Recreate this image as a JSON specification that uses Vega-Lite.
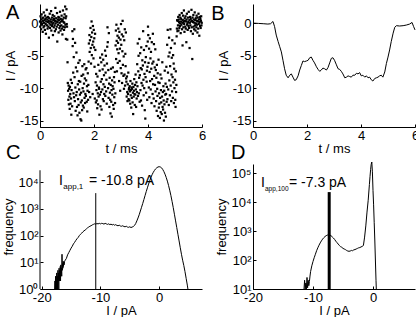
{
  "$schema": "https://vega.github.io/schema/vega-lite/v6.json",
  "padding": {"left": 2, "top": 2, "right": 0, "bottom": 0},
  "bounds": "flush",
  "columns": 2,
  "spacing": {"row": 37, "column": 51},
  "datasets": {
    "a": [
      {"t":0,"v":0.3},{"t":0.01,"v":-0.5},{"t":0.02,"v":1.1},{"t":0.03,"v":0.2},{"t":0.04,"v":-0.9},{"t":0.05,"v":0.6},{"t":0.06,"v":1.4},{"t":0.07,"v":-0.2},{"t":0.08,"v":0},{"t":0.09,"v":0.8},
      {"t":0.1,"v":-1.3},{"t":0.11,"v":0.4},{"t":0.12,"v":0.9},{"t":0.13,"v":-0.6},{"t":0.14,"v":1.7},{"t":0.15,"v":0.1},{"t":0.16,"v":-0.4},{"t":0.17,"v":0.5},{"t":0.18,"v":-1},{"t":0.19,"v":1.2},
      {"t":0.2,"v":0.7},{"t":0.21,"v":-0.1},{"t":0.22,"v":-1.6},{"t":0.23,"v":0.3},{"t":0.24,"v":0.9},{"t":0.25,"v":2.1},{"t":0.26,"v":-0.3},{"t":0.27,"v":0.6},{"t":0.28,"v":-0.8},{"t":0.29,"v":0.2},
      {"t":0.3,"v":1},{"t":0.31,"v":-0.5},{"t":0.32,"v":0.4},{"t":0.33,"v":-2.2},{"t":0.34,"v":0.8},{"t":0.35,"v":0},{"t":0.36,"v":1.5},{"t":0.37,"v":-0.7},{"t":0.38,"v":0.3},{"t":0.39,"v":-0.2},
      {"t":0.4,"v":0.6},{"t":0.41,"v":1.9},{"t":0.42,"v":-1.1},{"t":0.43,"v":0.2},{"t":0.44,"v":-0.4},{"t":0.45,"v":0.9},{"t":0.46,"v":-0.1},{"t":0.47,"v":1.3},{"t":0.48,"v":-1.8},{"t":0.49,"v":0.5},
      {"t":0.5,"v":0.1},{"t":0.51,"v":-0.6},{"t":0.52,"v":0.7},{"t":0.53,"v":1.1},{"t":0.54,"v":-0.3},{"t":0.55,"v":-1.2},{"t":0.56,"v":0.4},{"t":0.57,"v":2.4},{"t":0.58,"v":0},{"t":0.59,"v":-0.9},
      {"t":0.6,"v":0.8},{"t":0.61,"v":0.3},{"t":0.62,"v":-0.5},{"t":0.63,"v":1.6},{"t":0.64,"v":-2.8},{"t":0.65,"v":0.2},{"t":0.66,"v":0.6},{"t":0.67,"v":-0.2},{"t":0.68,"v":1},{"t":0.69,"v":-1.4},
      {"t":0.7,"v":0.5},{"t":0.71,"v":0.9},{"t":0.72,"v":-0.7},{"t":0.73,"v":0.1},{"t":0.74,"v":1.8},{"t":0.75,"v":-0.4},{"t":0.76,"v":-1.1},{"t":0.77,"v":0.7},{"t":0.78,"v":0.3},{"t":0.79,"v":-0.3},
      {"t":0.8,"v":1.2},{"t":0.81,"v":-0.8},{"t":0.82,"v":0.4},{"t":0.83,"v":-1.7},{"t":0.84,"v":0.6},{"t":0.85,"v":2},{"t":0.86,"v":-0.5},{"t":0.87,"v":0.2},{"t":0.88,"v":0.9},{"t":0.89,"v":-1},
      {"t":0.9,"v":0.1},{"t":0.91,"v":1.4},{"t":0.92,"v":-0.6},{"t":0.93,"v":2.6},{"t":0.94,"v":-0.2},{"t":0.95,"v":0.8},{"t":0.96,"v":-2.4},{"t":0.97,"v":1.1},{"t":0.98,"v":2.2},{"t":0.99,"v":-0.1},
      {"t":1,"v":-0.5},{"t":1.01,"v":-2.5},{"t":1.02,"v":-6},{"t":1.03,"v":-9.2},{"t":1.04,"v":-10.4},{"t":1.05,"v":-11.8},{"t":1.06,"v":-9.6},{"t":1.07,"v":-12.5},{"t":1.08,"v":-10.1},{"t":1.09,"v":-11.3},
      {"t":1.1,"v":-13.2},{"t":1.11,"v":-9.8},{"t":1.12,"v":-10.9},{"t":1.13,"v":-12.4},{"t":1.14,"v":-8.7},{"t":1.15,"v":-11.6},{"t":1.16,"v":-14.1},{"t":1.17,"v":-10.3},{"t":1.18,"v":-9.2},{"t":1.19,"v":-12.8},
      {"t":1.2,"v":-1.2},{"t":1.21,"v":-3.5},{"t":1.22,"v":-2.4},{"t":1.23,"v":-7.6},{"t":1.24,"v":-10.8},{"t":1.25,"v":-5.2},{"t":1.26,"v":-11.4},{"t":1.27,"v":-0.9},{"t":1.28,"v":-8.3},{"t":1.29,"v":-12},
      {"t":1.3,"v":-3},{"t":1.31,"v":-9.9},{"t":1.32,"v":-13.5},{"t":1.33,"v":-6.8},{"t":1.34,"v":-11.1},{"t":1.35,"v":-4.5},{"t":1.36,"v":-10.6},{"t":1.37,"v":-12.9},{"t":1.38,"v":-7.4},{"t":1.39,"v":-14.2},
      {"t":1.4,"v":-9.4},{"t":1.41,"v":-11.7},{"t":1.42,"v":-6.1},{"t":1.43,"v":-12.6},{"t":1.44,"v":-8.9},{"t":1.45,"v":-10.2},{"t":1.46,"v":-13.8},{"t":1.47,"v":-5.7},{"t":1.48,"v":-11},{"t":1.49,"v":-9},
      {"t":1.5,"v":-14.8},{"t":1.51,"v":-12.2},{"t":1.52,"v":-10.7},{"t":1.53,"v":-15},{"t":1.54,"v":-8.1},{"t":1.55,"v":-11.9},{"t":1.56,"v":-13.4},{"t":1.57,"v":-6.6},{"t":1.58,"v":-10},{"t":1.59,"v":-12.7},
      {"t":1.6,"v":-7.9},{"t":1.61,"v":-10.5},{"t":1.62,"v":-13},{"t":1.63,"v":-9.3},{"t":1.64,"v":-6.3},{"t":1.65,"v":-11.5},{"t":1.66,"v":-8.5},{"t":1.67,"v":-12.3},{"t":1.68,"v":-10.9},{"t":1.69,"v":-7.1},
      {"t":1.7,"v":-11.2},{"t":1.71,"v":-8.8},{"t":1.72,"v":-6.9},{"t":1.73,"v":-12.1},{"t":1.74,"v":-9.7},{"t":1.75,"v":-13.6},{"t":1.76,"v":-10.4},{"t":1.77,"v":-7.7},{"t":1.78,"v":-11.8},{"t":1.79,"v":-9.5},
      {"t":1.8,"v":-5.9},{"t":1.81,"v":-3.1},{"t":1.82,"v":-10.6},{"t":1.83,"v":-1.8},{"t":1.84,"v":-4.4},{"t":1.85,"v":-2.6},{"t":1.86,"v":-11.4},{"t":1.87,"v":-0.7},{"t":1.88,"v":-3.8},{"t":1.89,"v":-6.2},
      {"t":1.9,"v":-2.1},{"t":1.91,"v":0.3},{"t":1.92,"v":-4.9},{"t":1.93,"v":-1.4},{"t":1.94,"v":-3.3},{"t":1.95,"v":-10.9},{"t":1.96,"v":-0.4},{"t":1.97,"v":-2.8},{"t":1.98,"v":-5.4},{"t":1.99,"v":-1},
      {"t":2,"v":-3.7},{"t":2.01,"v":-2.3},{"t":2.02,"v":-6.7},{"t":2.03,"v":-11.6},{"t":2.04,"v":-1.6},{"t":2.05,"v":-4.1},{"t":2.06,"v":-9.1},{"t":2.07,"v":-12.2},{"t":2.08,"v":-7.8},{"t":2.09,"v":-10.3},
      {"t":2.1,"v":-11.9},{"t":2.11,"v":-9.6},{"t":2.12,"v":-13.1},{"t":2.13,"v":-8.2},{"t":2.14,"v":-10.8},{"t":2.15,"v":-12.5},{"t":2.16,"v":-6.4},{"t":2.17,"v":-11.3},{"t":2.18,"v":-9.9},{"t":2.19,"v":-10.1},
      {"t":2.2,"v":-14.1},{"t":2.21,"v":-7.3},{"t":2.22,"v":-11},{"t":2.23,"v":-5.3},{"t":2.24,"v":-12.8},{"t":2.25,"v":-9},{"t":2.26,"v":-10.6},{"t":2.27,"v":-6},{"t":2.28,"v":-13.3},{"t":2.29,"v":-8.6},
      {"t":2.3,"v":-4.8},{"t":2.31,"v":-10.2},{"t":2.32,"v":-7.1},{"t":2.33,"v":-11.7},{"t":2.34,"v":-5.6},{"t":2.35,"v":-9.4},{"t":2.36,"v":-12},{"t":2.37,"v":-8},{"t":2.38,"v":-10.9},{"t":2.39,"v":-6.5},
      {"t":2.4,"v":-9.8},{"t":2.41,"v":-4.2},{"t":2.42,"v":-11.2},{"t":2.43,"v":-7.6},{"t":2.44,"v":-5},{"t":2.45,"v":-10.5},{"t":2.46,"v":-8.7},{"t":2.47,"v":-12.4},{"t":2.48,"v":-6.2},{"t":2.49,"v":-3.6},
      {"t":2.5,"v":-0.6},{"t":2.51,"v":-2.9},{"t":2.52,"v":-10},{"t":2.53,"v":-7.2},{"t":2.54,"v":-11.5},{"t":2.55,"v":-1.5},{"t":2.56,"v":-9.3},{"t":2.57,"v":-12.9},{"t":2.58,"v":-8.4},{"t":2.59,"v":-10.7},
      {"t":2.6,"v":-11.8},{"t":2.61,"v":-13.9},{"t":2.62,"v":-9.5},{"t":2.63,"v":-7},{"t":2.64,"v":-12.1},{"t":2.65,"v":-10.3},{"t":2.66,"v":-14.4},{"t":2.67,"v":-8.8},{"t":2.68,"v":-11},{"t":2.69,"v":-9.7},
      {"t":2.7,"v":-6.8},{"t":2.71,"v":-12.6},{"t":2.72,"v":-10.1},{"t":2.73,"v":-13.2},{"t":2.74,"v":-8.3},{"t":2.75,"v":-11.4},{"t":2.76,"v":-9.1},{"t":2.77,"v":-7.5},{"t":2.78,"v":-12.3},{"t":2.79,"v":-10.8},
      {"t":2.8,"v":-3.4},{"t":2.81,"v":-1.1},{"t":2.82,"v":-5.5},{"t":2.83,"v":-0.2},{"t":2.84,"v":-2.7},{"t":2.85,"v":-7.4},{"t":2.86,"v":-4},{"t":2.87,"v":-1.9},{"t":2.88,"v":-6.1},{"t":2.89,"v":-3},
      {"t":2.9,"v":-0.8},{"t":2.91,"v":-4.6},{"t":2.92,"v":-2.2},{"t":2.93,"v":-8.9},{"t":2.94,"v":-1.3},{"t":2.95,"v":-5.8},{"t":2.96,"v":-3.9},{"t":2.97,"v":-10.4},{"t":2.98,"v":-2.5},{"t":2.99,"v":-6.9},
      {"t":3,"v":-0.1},{"t":3.01,"v":-3.3},{"t":3.02,"v":-7.7},{"t":3.03,"v":-1.7},{"t":3.04,"v":-9.2},{"t":3.05,"v":-4.3},{"t":3.06,"v":0.4},{"t":3.07,"v":-6.4},{"t":3.08,"v":-2},{"t":3.09,"v":-8.1},
      {"t":3.1,"v":-5.1},{"t":3.11,"v":-10.1},{"t":3.12,"v":-2.6},{"t":3.13,"v":-7.9},{"t":3.14,"v":-0.9},{"t":3.15,"v":-9.6},{"t":3.16,"v":-4.7},{"t":3.17,"v":-6.6},{"t":3.18,"v":-1.4},{"t":3.19,"v":-8.5},
      {"t":3.2,"v":-9},{"t":3.21,"v":-11.3},{"t":3.22,"v":-8.2},{"t":3.23,"v":-10.6},{"t":3.24,"v":-12},{"t":3.25,"v":-9.4},{"t":3.26,"v":-10.9},{"t":3.27,"v":-7.6},{"t":3.28,"v":-11.7},{"t":3.29,"v":-10.2},
      {"t":3.3,"v":-10},{"t":3.31,"v":-11.9},{"t":3.32,"v":-9.7},{"t":3.33,"v":-10.5},{"t":3.34,"v":-12.4},{"t":3.35,"v":-8.9},{"t":3.36,"v":-11.1},{"t":3.37,"v":-10.3},{"t":3.38,"v":-13},{"t":3.39,"v":-9.9},
      {"t":3.4,"v":-11.5},{"t":3.41,"v":-10.1},{"t":3.42,"v":-9.3},{"t":3.43,"v":-12.2},{"t":3.44,"v":-10.7},{"t":3.45,"v":-14},{"t":3.46,"v":-9.8},{"t":3.47,"v":-11.3},{"t":3.48,"v":-10.4},{"t":3.49,"v":-8.6},
      {"t":3.5,"v":-10.9},{"t":3.51,"v":-12.6},{"t":3.52,"v":-9.5},{"t":3.53,"v":-11},{"t":3.54,"v":-7.9},{"t":3.55,"v":-10.2},{"t":3.56,"v":-12.9},{"t":3.57,"v":-9.1},{"t":3.58,"v":-11.6},{"t":3.59,"v":-10.6},
      {"t":3.6,"v":-6.3},{"t":3.61,"v":-9.7},{"t":3.62,"v":-3.1},{"t":3.63,"v":-11.2},{"t":3.64,"v":-7.4},{"t":3.65,"v":-5},{"t":3.66,"v":-10.8},{"t":3.67,"v":-8.4},{"t":3.68,"v":-2.4},{"t":3.69,"v":-12.1},
      {"t":3.7,"v":-8},{"t":3.71,"v":-4.6},{"t":3.72,"v":-10.3},{"t":3.73,"v":-6.9},{"t":3.74,"v":-11.9},{"t":3.75,"v":-3.7},{"t":3.76,"v":-9.2},{"t":3.77,"v":-7.1},{"t":3.78,"v":-12.7},{"t":3.79,"v":-5.7},
      {"t":3.8,"v":-9.6},{"t":3.81,"v":-6.5},{"t":3.82,"v":-1.2},{"t":3.83,"v":-8.7},{"t":3.84,"v":-11.1},{"t":3.85,"v":-4.1},{"t":3.86,"v":-10},{"t":3.87,"v":-7.8},{"t":3.88,"v":-13.4},{"t":3.89,"v":-6},
      {"t":3.9,"v":-14.7},{"t":3.91,"v":-8.3},{"t":3.92,"v":-5.2},{"t":3.93,"v":-10.7},{"t":3.94,"v":-3.5},{"t":3.95,"v":-9},{"t":3.96,"v":-7.3},{"t":3.97,"v":-11.8},{"t":3.98,"v":-6.7},{"t":3.99,"v":-2.8},
      {"t":4,"v":-0.5},{"t":4.01,"v":-1.8},{"t":4.02,"v":-6.1},{"t":4.03,"v":-9.9},{"t":4.04,"v":-3.9},{"t":4.05,"v":-11.4},{"t":4.06,"v":-7.5},{"t":4.07,"v":-2.3},{"t":4.08,"v":-8.9},{"t":4.09,"v":-5.4},
      {"t":4.1,"v":-10.2},{"t":4.11,"v":-4.4},{"t":4.12,"v":-7},{"t":4.13,"v":-12.3},{"t":4.14,"v":-2.9},{"t":4.15,"v":-8.6},{"t":4.16,"v":-6.2},{"t":4.17,"v":-10.9},{"t":4.18,"v":-1.6},{"t":4.19,"v":-9.4},
      {"t":4.2,"v":-5.9},{"t":4.21,"v":-11.6},{"t":4.22,"v":-3.2},{"t":4.23,"v":-8.1},{"t":4.24,"v":-12.8},{"t":4.25,"v":-6.8},{"t":4.26,"v":-9.5},{"t":4.27,"v":-4},{"t":4.28,"v":-10.5},{"t":4.29,"v":-7.2},
      {"t":4.3,"v":-12},{"t":4.31,"v":-8.4},{"t":4.32,"v":-13.5},{"t":4.33,"v":-6.4},{"t":4.34,"v":-10.1},{"t":4.35,"v":-11.2},{"t":4.36,"v":-7.7},{"t":4.37,"v":-14.3},{"t":4.38,"v":-9.1},{"t":4.39,"v":-5.6},
      {"t":4.4,"v":-13},{"t":4.41,"v":-10.8},{"t":4.42,"v":-12.4},{"t":4.43,"v":-9.2},{"t":4.44,"v":-14.6},{"t":4.45,"v":-11.5},{"t":4.46,"v":-7.9},{"t":4.47,"v":-13.7},{"t":4.48,"v":-10.3},{"t":4.49,"v":-12.2},
      {"t":4.5,"v":-8.5},{"t":4.51,"v":-14},{"t":4.52,"v":-11.3},{"t":4.53,"v":-6},{"t":4.54,"v":-12.9},{"t":4.55,"v":-10.6},{"t":4.56,"v":-13.3},{"t":4.57,"v":-9.7},{"t":4.58,"v":-11.9},{"t":4.59,"v":-15},
      {"t":4.6,"v":-10.4},{"t":4.61,"v":-12.5},{"t":4.62,"v":-7.3},{"t":4.63,"v":-13.8},{"t":4.64,"v":-11},{"t":4.65,"v":-9.3},{"t":4.66,"v":-14.4},{"t":4.67,"v":-10.9},{"t":4.68,"v":-6.7},{"t":4.69,"v":-12.1},
      {"t":4.7,"v":-9.8},{"t":4.71,"v":-3.3},{"t":4.72,"v":-11.7},{"t":4.73,"v":-1},{"t":4.74,"v":-7.6},{"t":4.75,"v":-10.2},{"t":4.76,"v":-5.1},{"t":4.77,"v":-12.6},{"t":4.78,"v":-2.2},{"t":4.79,"v":-8.8},
      {"t":4.8,"v":-4.5},{"t":4.81,"v":-11.1},{"t":4.82,"v":-6.6},{"t":4.83,"v":-0.9},{"t":4.84,"v":-9.6},{"t":4.85,"v":-3.8},{"t":4.86,"v":-12},{"t":4.87,"v":-7.9},{"t":4.88,"v":-5.3},{"t":4.89,"v":-10.5},
      {"t":4.9,"v":-2.6},{"t":4.91,"v":-8.3},{"t":4.92,"v":-11.5},{"t":4.93,"v":-4.9},{"t":4.94,"v":-9.1},{"t":4.95,"v":-6.2},{"t":4.96,"v":-12.3},{"t":4.97,"v":-7},{"t":4.98,"v":-10},{"t":4.99,"v":-3.1},
      {"t":5,"v":-8.7},{"t":5.01,"v":-11.8},{"t":5.02,"v":-12.9},{"t":5.03,"v":-7.4},{"t":5.04,"v":-10.6},{"t":5.05,"v":-9.5},
      {"t":5.06,"v":-2},{"t":5.07,"v":-0.8},{"t":5.08,"v":0.5},{"t":5.09,"v":-1.2},
      {"t":5.1,"v":0.4},{"t":5.11,"v":-0.3},{"t":5.12,"v":1},{"t":5.13,"v":-1.1},{"t":5.14,"v":0.6},{"t":5.15,"v":0.2},{"t":5.16,"v":-0.7},{"t":5.17,"v":1.3},{"t":5.18,"v":0},{"t":5.19,"v":-0.4},
      {"t":5.2,"v":0.9},{"t":5.21,"v":-1.5},{"t":5.22,"v":0.3},{"t":5.23,"v":0.7},{"t":5.24,"v":-0.2},{"t":5.25,"v":1.6},{"t":5.26,"v":-0.9},{"t":5.27,"v":0.1},{"t":5.28,"v":-3.4},{"t":5.29,"v":0.5},
      {"t":5.3,"v":1.2},{"t":5.31,"v":-0.6},{"t":5.32,"v":0.2},{"t":5.33,"v":2},{"t":5.34,"v":-0.1},{"t":5.35,"v":-1.3},{"t":5.36,"v":0.8},{"t":5.37,"v":0.4},{"t":5.38,"v":-0.5},{"t":5.39,"v":1.1},
      {"t":5.4,"v":-0.8},{"t":5.41,"v":0.3},{"t":5.42,"v":-2.9},{"t":5.43,"v":0.6},{"t":5.44,"v":1.5},{"t":5.45,"v":-0.2},{"t":5.46,"v":0},{"t":5.47,"v":-1},{"t":5.48,"v":0.9},{"t":5.49,"v":0.2},
      {"t":5.5,"v":-0.4},{"t":5.51,"v":1.8},{"t":5.52,"v":-0.7},{"t":5.53,"v":0.5},{"t":5.54,"v":-3.8},{"t":5.55,"v":0.1},{"t":5.56,"v":1},{"t":5.57,"v":-0.3},{"t":5.58,"v":0.7},{"t":5.59,"v":-1.2},
      {"t":5.6,"v":0.3},{"t":5.61,"v":2.1},{"t":5.62,"v":-0.6},{"t":5.63,"v":0.4},{"t":5.64,"v":-5.5},{"t":5.65,"v":0.9},{"t":5.66,"v":-1.6},{"t":5.67,"v":0.2},{"t":5.68,"v":1.3},{"t":5.69,"v":-0.5},
      {"t":5.7,"v":0.6},{"t":5.71,"v":-0.9},{"t":5.72,"v":0.1},{"t":5.73,"v":1.7},{"t":5.74,"v":-0.3},{"t":5.75,"v":0.5},{"t":5.76,"v":-1.1},{"t":5.77,"v":0.8},{"t":5.78,"v":0},{"t":5.79,"v":-0.6},
      {"t":5.8,"v":1.2},{"t":5.81,"v":-0.2},{"t":5.82,"v":0.4},{"t":5.83,"v":-1.4},{"t":5.84,"v":0.9},{"t":5.85,"v":0.3},{"t":5.86,"v":-0.8},{"t":5.87,"v":1.5},{"t":5.88,"v":-0.1},{"t":5.89,"v":0.6},
      {"t":5.9,"v":-1.9},{"t":5.91,"v":0.2},{"t":5.92,"v":1},{"t":5.93,"v":-0.4},{"t":5.94,"v":0.7},{"t":5.95,"v":-0.7},{"t":5.96,"v":0.4},{"t":5.97,"v":1.1},{"t":5.98,"v":-0.3},{"t":5.99,"v":0.1}
    ],
    "b": [
      {"t":0,"v":0.05},{"t":0.2,"v":0},{"t":0.4,"v":-0.05},{"t":0.55,"v":-0.1},{"t":0.65,"v":-0.05},{"t":0.74,"v":0.3},{"t":0.8,"v":-0.5},{"t":0.86,"v":-1.8},{"t":0.93,"v":-2.8},{"t":0.99,"v":-3.6},
      {"t":1.05,"v":-4.4},{"t":1.11,"v":-5.7},{"t":1.17,"v":-7},{"t":1.23,"v":-8},{"t":1.3,"v":-8.4},{"t":1.36,"v":-8},{"t":1.42,"v":-7.8},{"t":1.48,"v":-8.3},{"t":1.54,"v":-8.8},{"t":1.6,"v":-8.7},
      {"t":1.67,"v":-8.1},{"t":1.73,"v":-7.2},{"t":1.79,"v":-6.5},{"t":1.85,"v":-5.8},{"t":1.91,"v":-5.9},{"t":1.98,"v":-5.8},{"t":2.04,"v":-5.7},{"t":2.1,"v":-5.3},{"t":2.16,"v":-5.2},{"t":2.22,"v":-5.7},
      {"t":2.28,"v":-6.1},{"t":2.35,"v":-6.7},{"t":2.41,"v":-7.1},{"t":2.47,"v":-7.4},{"t":2.53,"v":-7.2},{"t":2.59,"v":-6.9},{"t":2.65,"v":-7},{"t":2.72,"v":-7.2},{"t":2.78,"v":-6.8},{"t":2.84,"v":-6.1},
      {"t":2.9,"v":-5.4},{"t":2.96,"v":-5.3},{"t":3.02,"v":-5.7},{"t":3.09,"v":-6.4},{"t":3.15,"v":-7},{"t":3.21,"v":-7.1},{"t":3.27,"v":-7.4},{"t":3.33,"v":-7.8},{"t":3.4,"v":-8.4},{"t":3.46,"v":-8.3},
      {"t":3.52,"v":-8.1},{"t":3.58,"v":-8.2},{"t":3.64,"v":-8.3},{"t":3.7,"v":-8},{"t":3.77,"v":-8},{"t":3.83,"v":-7.7},{"t":3.89,"v":-7.8},{"t":3.95,"v":-7.6},{"t":4.01,"v":-8.1},{"t":4.07,"v":-8},
      {"t":4.14,"v":-8.3},{"t":4.2,"v":-8.1},{"t":4.26,"v":-8.4},{"t":4.32,"v":-8.3},{"t":4.38,"v":-8.7},{"t":4.44,"v":-8.9},{"t":4.51,"v":-8.5},{"t":4.57,"v":-8.4},{"t":4.63,"v":-8.3},{"t":4.69,"v":-8.1},
      {"t":4.75,"v":-8},{"t":4.81,"v":-8.3},{"t":4.88,"v":-7.5},{"t":4.94,"v":-6.2},{"t":5,"v":-5.2},{"t":5.06,"v":-4.1},{"t":5.12,"v":-2.8},{"t":5.19,"v":-1.5},{"t":5.25,"v":-0.6},{"t":5.31,"v":-0.35},
      {"t":5.43,"v":-0.4},{"t":5.56,"v":-0.35},{"t":5.68,"v":-0.25},{"t":5.8,"v":-0.1},{"t":5.89,"v":0.15},{"t":5.95,"v":-0.5},{"t":6,"v":-1}
    ],
    "c": [
      {"i":-17.8,"f":1},{"i":-17.75,"f":2},{"i":-17.7,"f":1},{"i":-17.65,"f":3},{"i":-17.6,"f":1},{"i":-17.55,"f":2},{"i":-17.5,"f":1},{"i":-17.45,"f":4},{"i":-17.4,"f":1},{"i":-17.35,"f":3},
      {"i":-17.3,"f":1},{"i":-17.25,"f":5},{"i":-17.2,"f":2},{"i":-17.15,"f":4},{"i":-17.1,"f":1},{"i":-17.05,"f":6},{"i":-17,"f":2},{"i":-16.95,"f":5},{"i":-16.9,"f":3},{"i":-16.85,"f":7},
      {"i":-16.8,"f":2},{"i":-16.75,"f":8},{"i":-16.7,"f":4},{"i":-16.65,"f":6},{"i":-16.6,"f":3},{"i":-16.55,"f":20},{"i":-16.5,"f":5},{"i":-16.45,"f":9},{"i":-16.4,"f":6},{"i":-16.35,"f":11},
      {"i":-16.3,"f":7},{"i":-16.25,"f":10},{"i":-16.2,"f":8},{"i":-16.1,"f":11},{"i":-16,"f":12},{"i":-15.8,"f":14},{"i":-15.6,"f":19},{"i":-15.4,"f":23},{"i":-15.2,"f":28},{"i":-15,"f":34},
      {"i":-14.8,"f":40},{"i":-14.6,"f":49},{"i":-14.4,"f":56},{"i":-14.2,"f":66},{"i":-14,"f":76},{"i":-13.8,"f":85},{"i":-13.6,"f":100},{"i":-13.4,"f":112},{"i":-13.2,"f":123},{"i":-13,"f":138},
      {"i":-12.8,"f":151},{"i":-12.6,"f":162},{"i":-12.4,"f":178},{"i":-12.2,"f":195},{"i":-12,"f":209},{"i":-11.8,"f":224},{"i":-11.6,"f":234},{"i":-11.4,"f":251},{"i":-11.2,"f":263},{"i":-11,"f":275},
      {"i":-10.8,"f":269},{"i":-10.6,"f":282},{"i":-10.4,"f":275},{"i":-10.2,"f":288},{"i":-10,"f":275},{"i":-9.8,"f":288},{"i":-9.6,"f":282},{"i":-9.4,"f":269},{"i":-9.2,"f":288},{"i":-9,"f":275},
      {"i":-8.8,"f":263},{"i":-8.6,"f":275},{"i":-8.4,"f":257},{"i":-8.2,"f":269},{"i":-8,"f":251},{"i":-7.8,"f":263},{"i":-7.6,"f":245},{"i":-7.4,"f":257},{"i":-7.2,"f":240},{"i":-7,"f":234},
      {"i":-6.8,"f":245},{"i":-6.6,"f":229},{"i":-6.4,"f":224},{"i":-6.2,"f":234},{"i":-6,"f":219},{"i":-5.8,"f":214},{"i":-5.6,"f":224},{"i":-5.4,"f":209},{"i":-5.2,"f":204},{"i":-5,"f":214},
      {"i":-4.8,"f":200},{"i":-4.6,"f":209},{"i":-4.4,"f":219},{"i":-4.2,"f":240},{"i":-4,"f":282},{"i":-3.8,"f":355},{"i":-3.6,"f":457},{"i":-3.4,"f":603},{"i":-3.2,"f":832},{"i":-3,"f":1148},
      {"i":-2.8,"f":1585},{"i":-2.6,"f":2239},{"i":-2.4,"f":3162},{"i":-2.2,"f":4467},{"i":-2,"f":6166},{"i":-1.8,"f":8511},{"i":-1.6,"f":11482},{"i":-1.4,"f":15136},{"i":-1.2,"f":19055},{"i":-1,"f":23442},
      {"i":-0.8,"f":27542},{"i":-0.6,"f":31623},{"i":-0.4,"f":34674},{"i":-0.2,"f":37154},{"i":0,"f":38019},{"i":0.2,"f":37154},{"i":0.4,"f":34674},{"i":0.6,"f":30200},{"i":0.8,"f":25119},{"i":1,"f":19953},
      {"i":1.2,"f":15136},{"i":1.4,"f":10965},{"i":1.6,"f":7586},{"i":1.8,"f":5012},{"i":2,"f":3162},{"i":2.2,"f":1905},{"i":2.4,"f":1122},{"i":2.6,"f":631},{"i":2.8,"f":355},{"i":3,"f":200},
      {"i":3.2,"f":112},{"i":3.4,"f":63},{"i":3.6,"f":35},{"i":3.8,"f":20},{"i":4,"f":12},{"i":4.2,"f":7.6},{"i":4.4,"f":4.5},{"i":4.6,"f":2.5},{"i":4.8,"f":1.4},{"i":4.9,"f":1}
    ],
    "d": [
      {"i":-11.5,"f":10},{"i":-11.4,"f":20},{"i":-11.3,"f":10},{"i":-11.2,"f":16},{"i":-11.1,"f":10},{"i":-11,"f":25},{"i":-10.9,"f":11},{"i":-10.8,"f":20},{"i":-10.7,"f":13},{"i":-10.6,"f":18},
      {"i":-10.5,"f":28},{"i":-10.4,"f":40},{"i":-10.2,"f":63},{"i":-10,"f":89},{"i":-9.8,"f":120},{"i":-9.6,"f":158},{"i":-9.4,"f":209},{"i":-9.2,"f":263},{"i":-9,"f":324},{"i":-8.8,"f":389},
      {"i":-8.6,"f":457},{"i":-8.4,"f":525},{"i":-8.2,"f":589},{"i":-8,"f":646},{"i":-7.8,"f":692},{"i":-7.6,"f":724},{"i":-7.4,"f":741},{"i":-7.2,"f":724},{"i":-7,"f":692},{"i":-6.8,"f":631},
      {"i":-6.6,"f":575},{"i":-6.4,"f":513},{"i":-6.2,"f":447},{"i":-6,"f":398},{"i":-5.8,"f":355},{"i":-5.6,"f":316},{"i":-5.4,"f":288},{"i":-5.2,"f":275},{"i":-5,"f":251},{"i":-4.8,"f":240},
      {"i":-4.6,"f":229},{"i":-4.4,"f":214},{"i":-4.2,"f":204},{"i":-4,"f":200},{"i":-3.8,"f":204},{"i":-3.6,"f":214},{"i":-3.4,"f":209},{"i":-3.2,"f":224},{"i":-3,"f":229},{"i":-2.8,"f":240},
      {"i":-2.6,"f":251},{"i":-2.4,"f":263},{"i":-2.2,"f":269},{"i":-2,"f":282},{"i":-1.8,"f":295},{"i":-1.6,"f":316},{"i":-1.4,"f":617},{"i":-1.2,"f":1500},{"i":-1,"f":4500},{"i":-0.8,"f":11500},
      {"i":-0.6,"f":40000},{"i":-0.5,"f":75000},{"i":-0.4,"f":130000},{"i":-0.3,"f":200000},{"i":-0.2,"f":240000},{"i":-0.1,"f":110000},{"i":0,"f":25000},{"i":0.1,"f":8000},{"i":0.2,"f":2000},{"i":0.3,"f":490},
      {"i":0.4,"f":100},{"i":0.5,"f":20},{"i":0.55,"f":10}
    ]
  },
  "concat": [
    {
      "width": 162, "height": 123,
      "layer": [
        {"data": {"name": "a"}, "mark": {"type": "square", "size": 5, "color": "#000", "opacity": 1},
         "encoding": {
           "x": {"field": "t", "type": "quantitative", "scale": {"domain": [0, 6], "nice": false}, "axis": {"values": [0, 2, 4, 6], "title": "t / ms", "labelOverlap": false}},
           "y": {"field": "v", "type": "quantitative", "scale": {"domain": [-16, 3], "nice": false, "zero": false}, "axis": {"values": [0, -5, -10, -15], "title": "I / pA", "labelExpr": "'' + datum.value", "labelOverlap": false}}
         }},
        {"mark": {"type": "rule", "color": "#000", "strokeWidth": 1}, "encoding": {"y": {"datum": -10.8}}},
        {"data": {"values": [{"label": "A", "t": -1.26, "v": 0.73}]}, "mark": {"type": "text", "fontSize": 20, "align": "left", "baseline": "alphabetic", "font": "Liberation Sans", "color": "#000"},
         "encoding": {"x": {"field": "t", "type": "quantitative"}, "y": {"field": "v", "type": "quantitative"}, "text": {"field": "label"}}}
      ]
    },
    {
      "width": 162, "height": 123,
      "layer": [
        {"data": {"name": "b"}, "mark": {"type": "line", "color": "#000", "strokeWidth": 1},
         "encoding": {
           "x": {"field": "t", "type": "quantitative", "scale": {"domain": [0, 6], "nice": false}, "axis": {"values": [0, 2, 4, 6], "title": "t / ms", "labelOverlap": false}},
           "y": {"field": "v", "type": "quantitative", "scale": {"domain": [-16, 3], "nice": false, "zero": false}, "axis": {"values": [0, -5, -10, -15], "title": "I / pA", "labelExpr": "'' + datum.value", "labelOverlap": false}}
         }},
        {"mark": {"type": "rule", "color": "#000", "strokeWidth": 1}, "encoding": {"y": {"datum": -7.3}}},
        {"data": {"values": [{"label": "B", "t": -1.55, "v": 0.48}]}, "mark": {"type": "text", "fontSize": 20, "align": "left", "baseline": "alphabetic", "font": "Liberation Sans", "color": "#000"},
         "encoding": {"x": {"field": "t", "type": "quantitative"}, "y": {"field": "v", "type": "quantitative"}, "text": {"field": "label"}}}
      ]
    },
    {
      "width": 162, "height": 125,
      "layer": [
        {"data": {"name": "c"}, "mark": {"type": "line", "color": "#000", "strokeWidth": 1},
         "encoding": {
           "x": {"field": "i", "type": "quantitative", "scale": {"domain": [-20.3, 7.3], "nice": false}, "axis": {"values": [-20, -15, -10, -5, 0, 5], "title": "I / pA", "labelExpr": "'' + datum.value", "labelOverlap": false}},
           "y": {"field": "f", "type": "quantitative", "scale": {"type": "log", "domain": [1, 48000], "nice": false}, "axis": {"values": [1, 10, 100, 1000, 10000], "title": "frequency", "domain": false, "labelOverlap": false, "labelExpr": "'10' + ['⁰','¹','²','³','⁴','⁵'][round(log(datum.value)/LN10)]"}}
         }},
        {"data": {"values": [{"i": -20.3, "f": 1, "f2": 28000}, {"i": -10.8, "f": 1, "f2": 3900}]},
         "mark": {"type": "rule", "color": "#000", "strokeWidth": 1},
         "encoding": {"x": {"field": "i", "type": "quantitative"}, "y": {"field": "f", "type": "quantitative"}, "y2": {"field": "f2"}}},
        {"data": {"values": [
            {"label": "I", "i": -17.06, "f": 7800, "size": 14, "dy": 0},
            {"label": "app,1", "i": -16.33, "f": 7800, "size": 8, "dy": 4},
            {"label": "= -10.8 pA", "i": -11.95, "f": 7800, "size": 14, "dy": 0},
            {"label": "C", "i": -26.09, "f": 74000, "size": 20, "dy": 0}
          ]},
         "layer": [
           {"transform": [{"filter": "datum.dy == 0"}], "mark": {"type": "text", "align": "left", "baseline": "alphabetic", "font": "Liberation Sans", "color": "#000"},
            "encoding": {"x": {"field": "i", "type": "quantitative"}, "y": {"field": "f", "type": "quantitative"}, "text": {"field": "label"}, "size": {"field": "size", "type": "quantitative", "scale": null}}},
           {"transform": [{"filter": "datum.dy != 0"}], "mark": {"type": "text", "align": "left", "baseline": "alphabetic", "font": "Liberation Sans", "color": "#000", "dy": 4},
            "encoding": {"x": {"field": "i", "type": "quantitative"}, "y": {"field": "f", "type": "quantitative"}, "text": {"field": "label"}, "size": {"field": "size", "type": "quantitative", "scale": null}}}
         ]}
      ]
    },
    {
      "width": 162, "height": 125,
      "layer": [
        {"data": {"name": "d"}, "mark": {"type": "line", "color": "#000", "strokeWidth": 1},
         "encoding": {
           "x": {"field": "i", "type": "quantitative", "scale": {"domain": [-20, 7], "nice": false}, "axis": {"values": [-20, -15, -10, -5, 0, 5], "title": "I / pA", "labelExpr": "'' + datum.value", "labelOverlap": false}},
           "y": {"field": "f", "type": "quantitative", "scale": {"type": "log", "domain": [10, 205000], "nice": false}, "axis": {"values": [10, 100, 1000, 10000, 100000], "title": "frequency", "labelOverlap": false, "labelExpr": "'10' + ['⁰','¹','²','³','⁴','⁵'][round(log(datum.value)/LN10)]"}}
         }},
        {"data": {"values": [{"i": -7.3, "f": 10, "f2": 22000}]},
         "mark": {"type": "rule", "color": "#000", "strokeWidth": 3},
         "encoding": {"x": {"field": "i", "type": "quantitative"}, "y": {"field": "f", "type": "quantitative"}, "y2": {"field": "f2"}}},
        {"data": {"values": [
            {"label": "I", "i": -18.67, "f": 33000, "size": 14, "dy": 0},
            {"label": "app,100", "i": -18.0, "f": 33000, "size": 6.5, "dy": 4},
            {"label": "= -7.3 pA", "i": -14.0, "f": 33000, "size": 14, "dy": 0},
            {"label": "D", "i": -23.67, "f": 300000, "size": 20, "dy": 0}
          ]},
         "layer": [
           {"transform": [{"filter": "datum.dy == 0"}], "mark": {"type": "text", "align": "left", "baseline": "alphabetic", "font": "Liberation Sans", "color": "#000"},
            "encoding": {"x": {"field": "i", "type": "quantitative"}, "y": {"field": "f", "type": "quantitative"}, "text": {"field": "label"}, "size": {"field": "size", "type": "quantitative", "scale": null}}},
           {"transform": [{"filter": "datum.dy != 0"}], "mark": {"type": "text", "align": "left", "baseline": "alphabetic", "font": "Liberation Sans", "color": "#000", "dy": 4},
            "encoding": {"x": {"field": "i", "type": "quantitative"}, "y": {"field": "f", "type": "quantitative"}, "text": {"field": "label"}, "size": {"field": "size", "type": "quantitative", "scale": null}}}
         ]}
      ]
    }
  ],
  "config": {
    "view": {"stroke": null},
    "font": "Liberation Sans",
    "axis": {
      "domainColor": "#000", "domainWidth": 1, "tickColor": "#000", "tickSize": -3, "tickWidth": 1,
      "labelColor": "#000", "labelFont": "Liberation Sans", "labelFontSize": 13, "labelPadding": 5,
      "titleColor": "#000", "titleFont": "Liberation Sans", "titleFontSize": 13, "titleFontWeight": "normal",
      "grid": false, "labelFlush": false, "labelOverlap": false
    },
    "axisY": {"titlePadding": 2},
    "axisX": {"titlePadding": 0}
  }
}
